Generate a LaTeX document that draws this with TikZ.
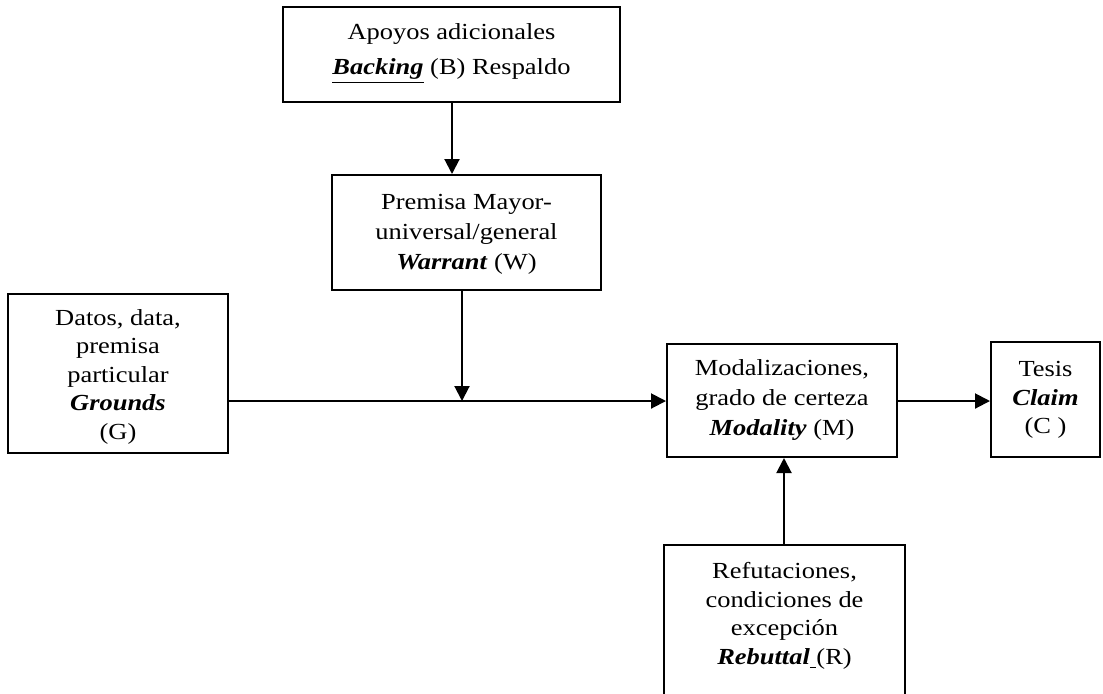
\documentclass[tikz,border=0pt]{standalone}
\usepackage{fontspec}
\setmainfont{Liberation Serif}[FakeStretch=1.15]
\usetikzlibrary{arrows.meta}
\begin{document}
\begin{tikzpicture}[x=0.5pt,y=-0.5pt,
  box/.style={draw,line width=1pt,rectangle,inner sep=0pt},
  label/.style={anchor=north,align=center,inner sep=0pt,
    font=\fontsize{11.5pt}{14.25pt}\selectfont},
  arr/.style={line width=1pt,-{Triangle[length=7.5pt,width=7.5pt]}}]
\useasboundingbox (0,0) rectangle (1103,693);
\clip (0,0) rectangle (1103,693);

% boxes
\node[box,minimum width=168.5pt,minimum height=47.5pt] (backing) at (451.5,54.5) {};
\node[box,minimum width=134.5pt,minimum height=57.5pt] (warrant) at (466.5,232.5) {};
\node[box,minimum width=110pt,minimum height=79.5pt] (grounds) at (118,373.5) {};
\node[box,minimum width=115pt,minimum height=56.5pt] (modality) at (782,400.5) {};
\node[box,minimum width=54.5pt,minimum height=57.5pt] (claim) at (1045.5,399.5) {};
\node[box,minimum width=120.5pt,minimum height=87.5pt] (rebuttal) at (784.5,632.5) {};

% texts
\node[label,font=\fontsize{11.5pt}{17.5pt}\selectfont] (backing-t) at (451.5,23)
  {Apoyos adicionales\\\underline{\textbf{\textit{Backing}}} (B) Respaldo};
\node[label,font=\fontsize{11.5pt}{15pt}\selectfont] (warrant-t) at (466.5,194)
  {Premisa Mayor-\\universal/general\\\textbf{\textit{Warrant}} (W)};
\node[label] (grounds-t) at (118,309)
  {Datos, data,\\premisa\\particular\\\textbf{\textit{Grounds}}\\(G)};
\node[label,font=\fontsize{11.5pt}{15pt}\selectfont] (modality-t) at (782,359)
  {Modalizaciones,\\grado de certeza\\\textbf{\textit{Modality}} (M)};
\node[label] (claim-t) at (1045.5,361)
  {Tesis\\\textbf{\textit{Claim}}\\(C )};
\node[label] (rebuttal-t) at (784.5,562)
  {Refutaciones,\\condiciones de\\excepción\\\textbf{\textit{Rebuttal}}\underline{\ }(R)};

% connector positions
\coordinate (bx) at (452,0);
\coordinate (wx) at (462,0);
\coordinate (rx) at (784,0);
\coordinate (hy) at (0,401);
\coordinate (join) at (462,401);

% connectors
\draw[arr] (bx |- backing.south) -- (bx |- warrant.north);
\draw[arr] (wx |- warrant.south) -- (join);
\draw[arr] (grounds.east |- hy) -- (modality.west |- hy);
\draw[arr] (modality.east |- hy) -- (claim.west |- hy);
\draw[arr] (rx |- rebuttal.north) -- (rx |- modality.south);
\end{tikzpicture}
\end{document}
